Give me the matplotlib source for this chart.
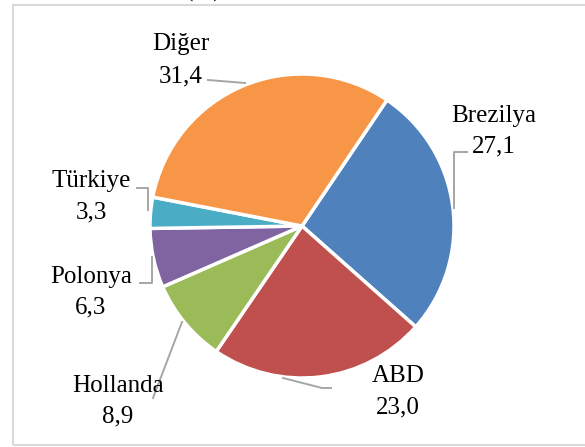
import matplotlib
matplotlib.use("Agg")
import matplotlib.pyplot as plt
from matplotlib.patches import Rectangle
from matplotlib.lines import Line2D

categories = ["Brezilya", "ABD", "Hollanda", "Polonya", "Türkiye", "Diğer"]
values = [27.1, 23.0, 8.9, 6.3, 3.3, 31.4]
value_labels = ["27,1", "23,0", "8,9", "6,3", "3,3", "31,4"]
colors = ["#4F81BD", "#C0504D", "#9BBB59", "#8064A2", "#4BACC6", "#F79646"]

W, H = 585, 447
DPI = 100
fig = plt.figure(figsize=(W / DPI, H / DPI), dpi=DPI)

CX, CY, R = 302, 226, 152
ax = fig.add_axes([(CX - R) / W, (H - CY - R) / H, 2 * R / W, 2 * R / H])
ax.pie(values, colors=colors, startangle=56, counterclock=False,
       wedgeprops=dict(edgecolor="white", linewidth=2.5))
ax.set_xlim(-1, 1)
ax.set_ylim(-1, 1)
ax.set_aspect("auto")
ax.axis("off")


def d(px, py):
    return ((px - CX) / R, (CY - py) / R)


font = dict(family="Liberation Serif", size=18, color="black")

# label positions (pixel centre x, baselines of name and value)
label_pos = {
    "Diğer": (181, 50, 82),
    "Brezilya": (494, 122, 152),
    "ABD": (398, 382, 413),
    "Hollanda": (118, 392, 422),
    "Polonya": (91, 283, 313),
    "Türkiye": (91, 187, 218),
}
for cat, vl in zip(categories, value_labels):
    x, b1, b2 = label_pos[cat]
    ax.text(*d(x, b1), cat, ha="center", va="baseline", clip_on=False, **font)
    ax.text(*d(x, b2), vl, ha="center", va="baseline", clip_on=False, **font)

leaders = [
    [(208, 80), (245, 83)],
    [(467, 152), (454, 152), (454, 208)],
    [(137, 188), (148, 188), (148, 210)],
    [(152, 257), (152, 283), (140, 283)],
    [(182, 322), (153, 398)],
    [(283, 378), (322, 388), (331, 388)],
]
for pts in leaders:
    xs = [d(*p)[0] for p in pts]
    ys = [d(*p)[1] for p in pts]
    ax.add_line(Line2D(xs, ys, color="#A6A6A6", linewidth=1.4, clip_on=False))

# outer border
fig.add_artist(Rectangle((12.5 / W, (H - 444.5) / H), (W + 10) / W, (444.5 - 5) / H,
                         transform=fig.transFigure, fill=False,
                         edgecolor="#D9D9D9", linewidth=1.5))

# clipped title fragment (only the bottom of it shows in the reference)
fig.text(204 / W, (H + 3) / H, "(%)", ha="center", va="baseline",
         family="Liberation Serif", size=18)

fig.savefig("out.png", dpi=DPI)
